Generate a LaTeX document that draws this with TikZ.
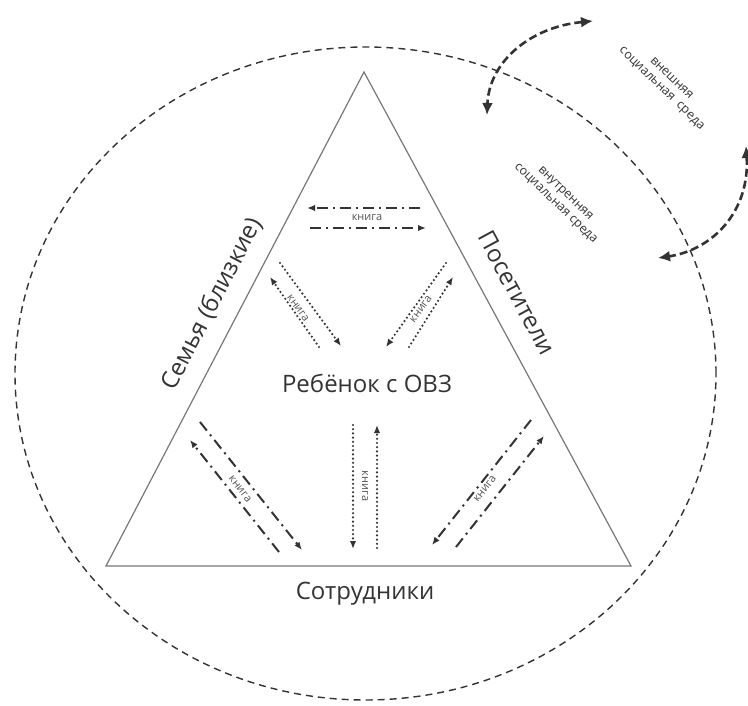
\documentclass[tikz,border=0pt]{standalone}
\usepackage{fontspec}
\setmainfont{Open Sans}
\usetikzlibrary{arrows.meta}
\definecolor{ink}{HTML}{333333}
\definecolor{edge}{HTML}{777777}
\newcommand{\bigfont}{\fontsize{24}{28}\selectfont}
\newcommand{\smallfont}{\fontsize{11}{12}\selectfont}

\begin{document}
\begin{tikzpicture}[x=1pt,y=-1pt,
  every node/.style={text=ink, inner sep=0pt},
  mainlabel/.style={font=\bigfont},
  booklabel/.style={font=\smallfont, text=ink!85},
  envlabel/.style={font=\fontsize{12.5}{14}\selectfont, align=center, rotate=-44},
  dashdot/.style={draw=ink, line width=2pt, dash pattern=on 11pt off 5pt on 2pt off 5pt,
    -{Latex[length=8pt,width=6.5pt]}},
  dots/.style={draw=ink, line width=2.4pt, line cap=round, dash pattern=on 0pt off 4.2pt,
    -{Latex[length=8pt,width=6.5pt]}},
  swing/.style={draw=ink, line width=2.6pt, dash pattern=on 8pt off 4pt,
    {Latex[length=12pt,width=11pt]}-{Latex[length=12pt,width=11pt]}}]
\useasboundingbox (0,0) rectangle (748,706);

% social environment
\draw[ink, line width=1.4pt, dash pattern=on 7pt off 5pt] (365.5,373.5) ellipse [x radius=350.5pt, y radius=326.5pt];

% triangle
\coordinate (top) at (364,72);
\coordinate (left) at (106,566);
\coordinate (right) at (631,566);
\draw[edge, line width=1.2pt] (top) -- (left) -- (right) -- cycle;

\node[mainlabel] (child) at (367,383) {Ребёнок с ОВЗ};
\node[mainlabel] (staff) at (365,594) {Сотрудники};
\node[mainlabel, rotate=62.4] (family) at (212,304) {Семья (близкие)};
\node[mainlabel, rotate=-61.6] (visitors) at (517,293) {Посетители};

% family <-> visitors
\draw[dashdot] (420,208) -- (307,208);
\draw[dashdot] (310,228) -- (426,228);
\node[booklabel] (book1) at (367,218) {книга};

% family <-> child
\draw[dots] (280,263) -- (341,346);
\draw[dots] (319,347) -- (270,277);
\node[booklabel, rotate=-54] (book2) at (298,308) {книга};

% visitors <-> child
\draw[dots] (446,263) -- (386,347);
\draw[dots] (409,347) -- (453,277);
\node[booklabel, rotate=54] (book3) at (421,309) {книга};

% family <-> staff
\draw[dashdot] (279,552) -- (190,440);
\draw[dashdot] (200,422) -- (302,550);
\node[booklabel, rotate=-52] (book4) at (240,489) {книга};

% child <-> staff
\draw[dots] (353,425) -- (353,549);
\draw[dots] (377,548) -- (377,425);
\node[booklabel, rotate=-90] (book5) at (365,486) {книга};

% visitors <-> staff
\draw[dashdot] (531,420) -- (432,545);
\draw[dashdot] (456,547) -- (544,436);
\node[booklabel, rotate=52] (book6) at (485,489) {книга};

% outer / inner environment
\node[envlabel] (outer) at (666,84) {внешняя\\социальная\ \ среда};
\node[envlabel] (inner) at (560,199) {внутренняя\\социальная среда};
\draw[swing] (593,21) .. controls (530,27) and (489,62) .. (487,115);
\draw[swing] (746,146) .. controls (750,212) and (712,250) .. (658,258);
\end{tikzpicture}
\end{document}
